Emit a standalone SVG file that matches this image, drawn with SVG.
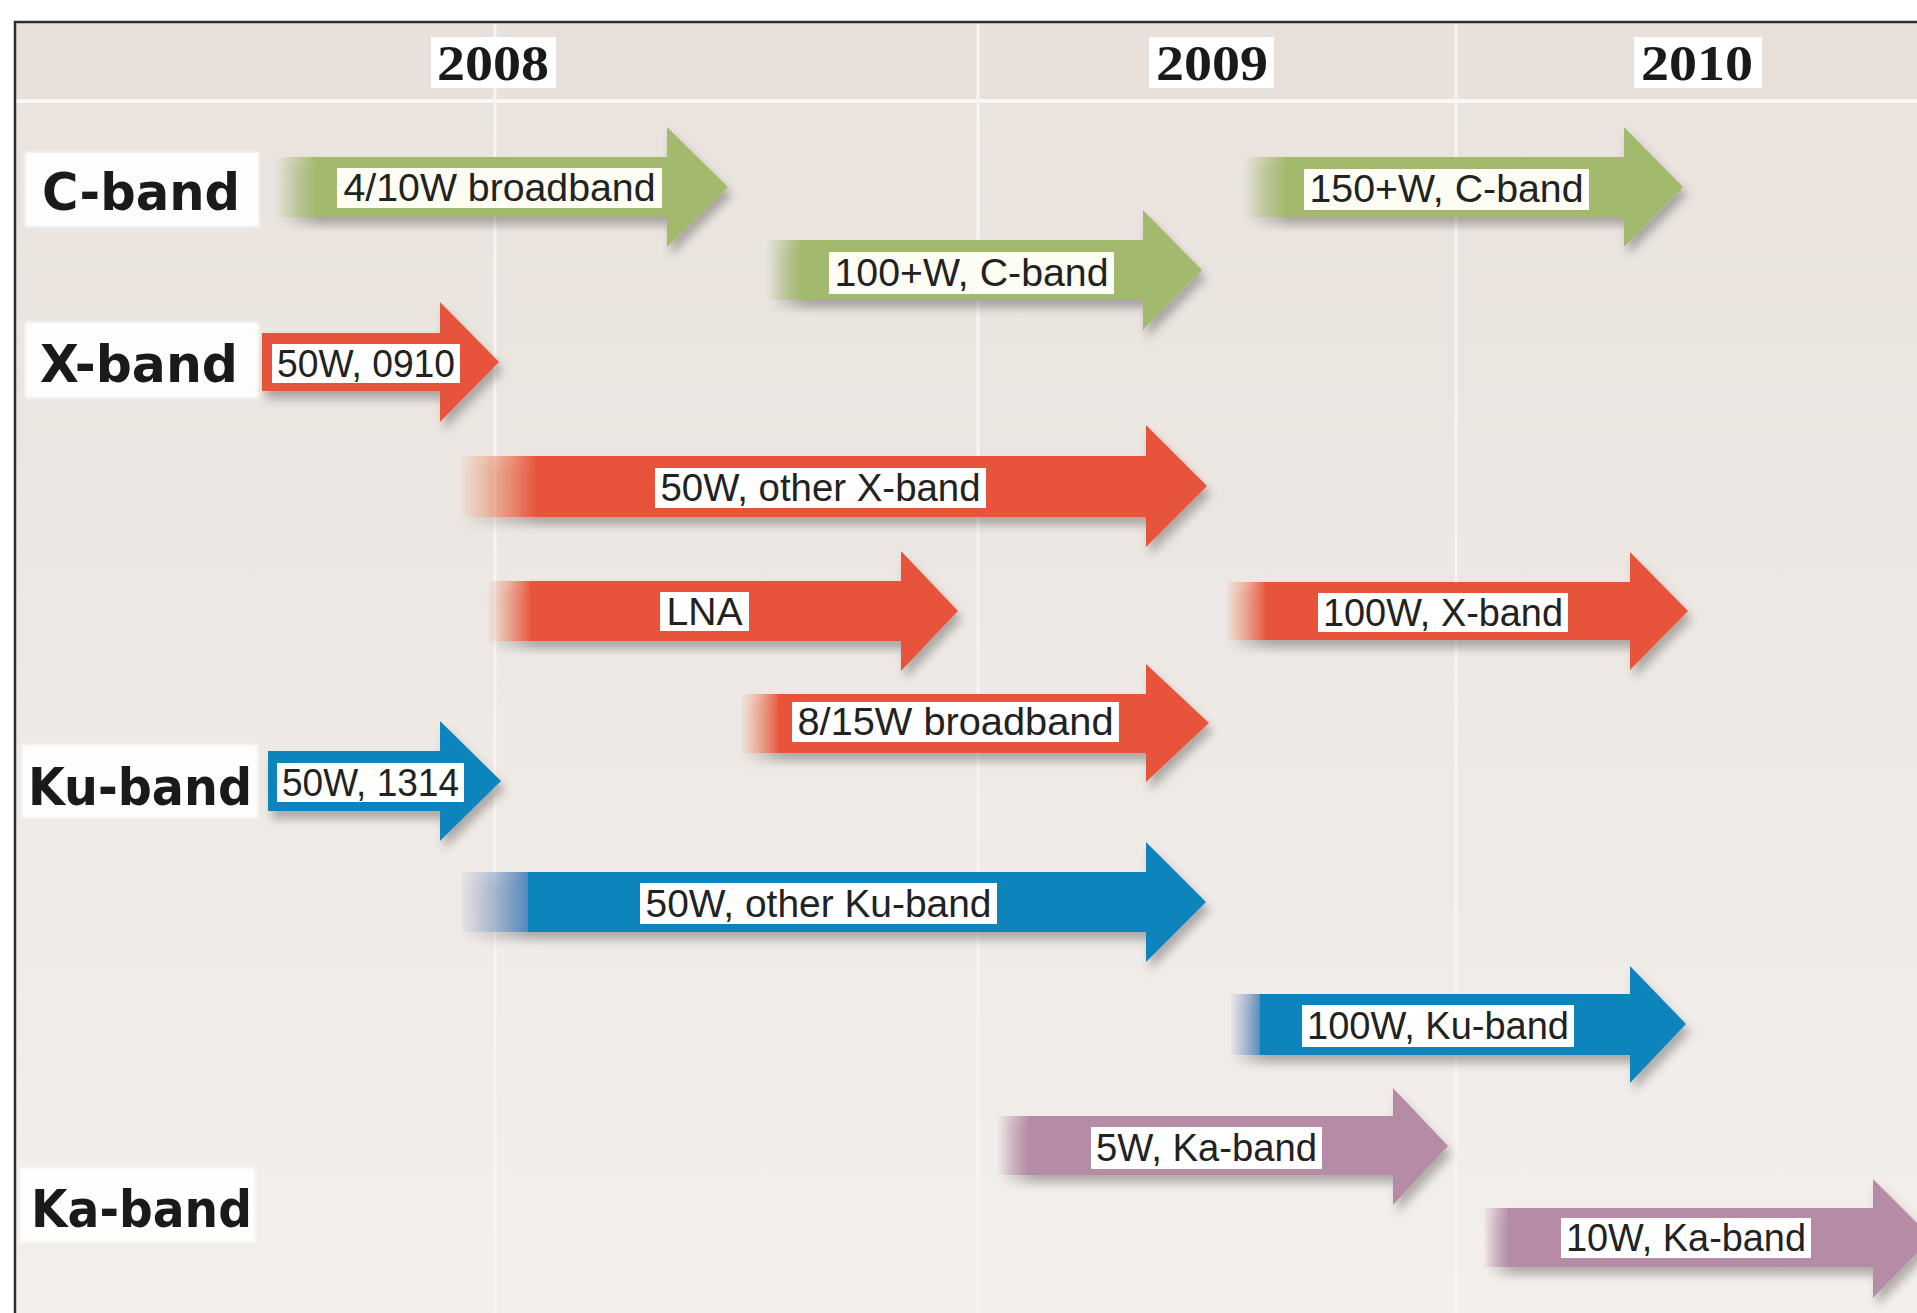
<svg xmlns="http://www.w3.org/2000/svg" width="1917" height="1313" viewBox="0 0 1917 1313">
<style>
.yr{font-family:"Liberation Serif",serif;font-weight:bold;font-size:50px;fill:#1a1a1a;text-anchor:middle}
.band{font-family:"DejaVu Sans","Liberation Sans",sans-serif;font-weight:bold;font-size:52px;fill:#1a1a1a}
.lbl{font-family:"Liberation Sans",Arial,sans-serif;font-size:38px;fill:#222;text-anchor:middle}
.lbox{fill:#ffffff}
.gbox{fill:#fdfdf3}
.bbox{fill:#ffffff;opacity:0.95}
.grid{stroke:#f7f4f1;stroke-width:3}
.g{fill:#a3ba6e}
.r{fill:#e8533b}
.b{fill:#0e84bb}
.p{fill:#b58ba6}
</style>
<defs>
<linearGradient id="bg" x1="0" y1="0" x2="0" y2="1">
<stop offset="0" stop-color="#e9e2dd"/>
<stop offset="1" stop-color="#f3efec"/>
</linearGradient>
<linearGradient id="fg" x1="0" y1="0" x2="1" y2="0">
<stop offset="0" stop-color="#a3ba6e" stop-opacity="0"/>
<stop offset="1" stop-color="#a3ba6e" stop-opacity="1"/>
</linearGradient>
<linearGradient id="fr" x1="0" y1="0" x2="1" y2="0">
<stop offset="0" stop-color="#f4a070" stop-opacity="0.1"/>
<stop offset="1" stop-color="#e8533b" stop-opacity="1"/>
</linearGradient>
<linearGradient id="fb" x1="0" y1="0" x2="1" y2="0">
<stop offset="0" stop-color="#9aa8cc" stop-opacity="0.1"/>
<stop offset="1" stop-color="#4f86bb" stop-opacity="1"/>
</linearGradient>
<linearGradient id="fp" x1="0" y1="0" x2="1" y2="0">
<stop offset="0" stop-color="#b58ba6" stop-opacity="0.05"/>
<stop offset="1" stop-color="#b58ba6" stop-opacity="1"/>
</linearGradient>
<filter id="sh" x="-10%" y="-30%" width="125%" height="170%">
<feDropShadow dx="4" dy="8" stdDeviation="5" flood-color="#000" flood-opacity="0.28"/>
</filter>
<filter id="soft" x="-10%" y="-20%" width="120%" height="140%">
<feGaussianBlur stdDeviation="1.5"/>
</filter>
</defs>

<rect x="0" y="0" width="1917" height="1313" fill="#ffffff"/>
<rect x="15" y="22" width="1910" height="1300" fill="url(#bg)"/>
<rect x="15" y="22" width="1910" height="78" fill="#e7e0db"/>
<rect x="15" y="99" width="1910" height="4" fill="#faf8f6"/>
<g id="grid">
<line class="grid" x1="495" y1="24" x2="495" y2="1313"/>
<line class="grid" x1="978" y1="24" x2="978" y2="1313"/>
<line class="grid" x1="1456" y1="24" x2="1456" y2="1313"/>
</g>
<path d="M15,1313 L15,22 L1917,22" fill="none" stroke="#2e2e2e" stroke-width="2.5"/>

<g id="year-2008"><rect class="lbox" x="431" y="37" width="125" height="51"/><text class="yr" x="493" y="80" textLength="112" lengthAdjust="spacingAndGlyphs">2008</text></g>
<g id="year-2009"><rect class="lbox" x="1149" y="37" width="125" height="51"/><text class="yr" x="1212" y="80" textLength="112" lengthAdjust="spacingAndGlyphs">2009</text></g>
<g id="year-2010"><rect class="lbox" x="1634" y="37" width="128" height="51"/><text class="yr" x="1697" y="80" textLength="112" lengthAdjust="spacingAndGlyphs">2010</text></g>

<g id="row-c-band"><rect class="bbox" x="25" y="152" width="234" height="75" filter="url(#soft)"/><text class="band" x="42" y="210" textLength="198" lengthAdjust="spacingAndGlyphs">C-band</text></g>
<g id="row-x-band"><rect class="bbox" x="25" y="322" width="234" height="76" filter="url(#soft)"/><text class="band" x="40" y="382" textLength="198" lengthAdjust="spacingAndGlyphs">X-band</text></g>
<g id="row-ku-band"><rect class="bbox" x="22" y="745" width="236" height="73" filter="url(#soft)"/><text class="band" x="28" y="805" textLength="224" lengthAdjust="spacingAndGlyphs">Ku-band</text></g>
<g id="row-ka-band"><rect class="bbox" x="20" y="1168" width="235" height="74" filter="url(#soft)"/><text class="band" x="31" y="1227" textLength="221" lengthAdjust="spacingAndGlyphs">Ka-band</text></g>

<g id="arrow-4-10w-broadband">
<g filter="url(#sh)"><rect x="275" y="157" width="42" height="60" fill="url(#fg)"/><path class="g" d="M315,157 L667,157 L667,127 L728,187 L667,247 L667,217 L315,217 Z"/></g>
<rect class="gbox" x="337" y="168" width="325" height="40"/><text class="lbl" x="499.5" y="201" textLength="312" lengthAdjust="spacingAndGlyphs">4/10W broadband</text>
</g>
<g id="arrow-100w-c-band">
<g filter="url(#sh)"><rect x="766" y="240" width="36" height="60" fill="url(#fg)"/><path class="g" d="M800,240 L1143,240 L1143,210 L1202,270 L1143,330 L1143,300 L800,300 Z"/></g>
<rect class="gbox" x="829" y="252" width="285" height="42"/><text class="lbl" x="971.5" y="286" textLength="274" lengthAdjust="spacingAndGlyphs">100+W, C-band</text>
</g>
<g id="arrow-150w-c-band">
<g filter="url(#sh)"><rect x="1243" y="157" width="44" height="60" fill="url(#fg)"/><path class="g" d="M1285,157 L1624,157 L1624,127 L1683,187 L1624,247 L1624,217 L1285,217 Z"/></g>
<rect class="gbox" x="1304" y="169" width="285" height="41"/><text class="lbl" x="1446.5" y="202" textLength="274" lengthAdjust="spacingAndGlyphs">150+W, C-band</text>
</g>

<g id="arrow-50w-0910">
<g filter="url(#sh)"><path class="r" d="M262,333 L440,333 L440,302 L499,362 L440,422 L440,391 L262,391 Z"/></g>
<rect class="lbox" x="272" y="344" width="188" height="39"/><text class="lbl" x="366" y="377" textLength="178" lengthAdjust="spacingAndGlyphs">50W, 0910</text>
</g>
<g id="arrow-50w-other-x-band">
<g filter="url(#sh)"><rect x="462" y="456" width="75" height="61" fill="url(#fr)"/><path class="r" d="M535,456 L1146,456 L1146,425 L1207,486 L1146,547 L1146,517 L535,517 Z"/></g>
<rect class="lbox" x="655" y="468" width="331" height="40"/><text class="lbl" x="820.5" y="501" textLength="320" lengthAdjust="spacingAndGlyphs">50W, other X-band</text>
</g>
<g id="arrow-lna">
<g filter="url(#sh)"><rect x="489" y="581" width="43" height="60" fill="url(#fr)"/><path class="r" d="M530,581 L901,581 L901,551 L958,611 L901,671 L901,641 L530,641 Z"/></g>
<rect class="lbox" x="660" y="592" width="89" height="39"/><text class="lbl" x="704.5" y="625" textLength="76" lengthAdjust="spacingAndGlyphs">LNA</text>
</g>
<g id="arrow-100w-x-band">
<g filter="url(#sh)"><rect x="1227" y="582" width="40" height="58" fill="url(#fr)"/><path class="r" d="M1265,582 L1630,582 L1630,552 L1688,611 L1630,670 L1630,640 L1265,640 Z"/></g>
<rect class="lbox" x="1318" y="593" width="250" height="39"/><text class="lbl" x="1443" y="626" textLength="240" lengthAdjust="spacingAndGlyphs">100W, X-band</text>
</g>
<g id="arrow-8-15w-broadband">
<g filter="url(#sh)"><rect x="742" y="694" width="38" height="59" fill="url(#fr)"/><path class="r" d="M778,694 L1146,694 L1146,664 L1209,723 L1146,782 L1146,753 L778,753 Z"/></g>
<rect class="lbox" x="792" y="702" width="327" height="40"/><text class="lbl" x="955.5" y="735" textLength="316" lengthAdjust="spacingAndGlyphs">8/15W broadband</text>
</g>

<g id="arrow-50w-1314">
<g filter="url(#sh)"><path class="b" d="M268,751 L440,751 L440,721 L501,781 L440,841 L440,811 L268,811 Z"/></g>
<rect class="lbox" x="277" y="763" width="187" height="39"/><text class="lbl" x="370.5" y="796" textLength="177" lengthAdjust="spacingAndGlyphs">50W, 1314</text>
</g>
<g id="arrow-50w-other-ku-band">
<g filter="url(#sh)"><rect x="462" y="872" width="68" height="60" fill="url(#fb)"/><path class="b" d="M528,872 L1146,872 L1146,842 L1206,902 L1146,962 L1146,932 L528,932 Z"/></g>
<rect class="lbox" x="640" y="883" width="357" height="41"/><text class="lbl" x="818.5" y="917" textLength="346" lengthAdjust="spacingAndGlyphs">50W, other Ku-band</text>
</g>
<g id="arrow-100w-ku-band">
<g filter="url(#sh)"><rect x="1231" y="994" width="31" height="61" fill="url(#fb)"/><path class="b" d="M1260,994 L1630,994 L1630,966 L1686,1024 L1630,1083 L1630,1055 L1260,1055 Z"/></g>
<rect class="lbox" x="1302" y="1005" width="272" height="42"/><text class="lbl" x="1438" y="1039" textLength="262" lengthAdjust="spacingAndGlyphs">100W, Ku-band</text>
</g>

<g id="arrow-5w-ka-band">
<g filter="url(#sh)"><rect x="998" y="1116" width="32" height="59" fill="url(#fp)"/><path class="p" d="M1028,1116 L1393,1116 L1393,1088 L1448,1146 L1393,1205 L1393,1175 L1028,1175 Z"/></g>
<rect class="lbox" x="1091" y="1127" width="231" height="42"/><text class="lbl" x="1206.5" y="1161" textLength="221" lengthAdjust="spacingAndGlyphs">5W, Ka-band</text>
</g>
<g id="arrow-10w-ka-band">
<g filter="url(#sh)"><rect x="1484" y="1208" width="26" height="59" fill="url(#fp)"/><path class="p" d="M1508,1208 L1873,1208 L1873,1179 L1932,1238 L1873,1298 L1873,1267 L1508,1267 Z"/></g>
<rect class="lbox" x="1561" y="1218" width="250" height="40"/><text class="lbl" x="1686" y="1251" textLength="240" lengthAdjust="spacingAndGlyphs">10W, Ka-band</text>
</g>

<g id="connectors"></g>
</svg>
